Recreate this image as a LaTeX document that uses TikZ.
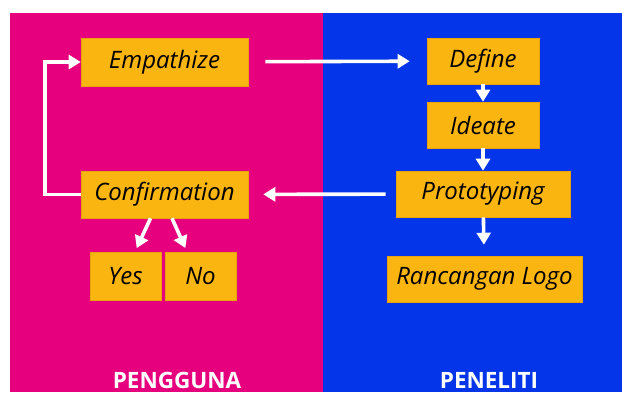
\documentclass[tikz,border=0pt]{standalone}
\usepackage{fontspec}
\setmainfont{Open Sans}
\usepackage{tikz}
\usetikzlibrary{arrows.meta,positioning,calc}
\definecolor{pinkbg}{HTML}{E6007E}
\definecolor{bluebg}{HTML}{0535E8}
\definecolor{gold}{HTML}{FBB510}
\definecolor{goldedge}{HTML}{E9A20C}
\tikzset{
  arr/.style={-{Triangle[length=12pt,width=14pt]},line width=3.6pt,white},
  stage/.style={rectangle,fill=gold,draw=goldedge,line width=0.6pt,
    minimum height=46pt,text centered,font=\fontsize{24}{26}\selectfont\itshape,text=black},
  side/.style={font=\fontsize{22.5}{25}\selectfont\bfseries,text=white},
}
\begin{document}
\begin{tikzpicture}[x=1pt,y=-1pt]
\useasboundingbox (0,0) rectangle (622,392);
\fill[white] (0,0) rectangle (622,392);
\fill[pinkbg] (10,13) rectangle (323,392);
\fill[bluebg] (323,13) rectangle (622,392);

\node[stage,minimum width=167pt,minimum height=48pt] (emp) at (164.5,62) {Empathize};
\node[stage,minimum width=112pt] (def) at (483,61) {Define};
\node[stage,minimum width=112pt] (ide) at (483,125) {Ideate};
\node[stage,minimum width=174pt] (pro) at (483,194) {Prototyping};
\node[stage,minimum width=195pt] (logo) at (484.5,279) {Rancangan Logo};
\node[stage,minimum width=167pt,minimum height=47pt] (conf) at (164.5,194.5) {Confirmation};
\node[stage,minimum width=71pt,minimum height=48pt] (yes) at (125.5,276) {Yes};
\node[stage,minimum width=71pt,minimum height=48pt] (no) at (200.5,276) {No};

\node[side] (usr) at (177,380) {PENGGUNA};
\node[side] (res) at (489,380) {PENELITI};

\draw[arr,shorten <=17pt,shorten >=17pt] (emp) -- (def);
\draw[arr] (def) -- (ide);
\draw[arr] (ide) -- (pro);
\draw[arr,shorten >=11pt] (pro) -- (logo);
\draw[arr,shorten <=10pt,shorten >=15pt] (pro) -- (conf);
\draw[arr] (conf.west) -- ++(-36,0) |- (emp.west);
\draw[arr,shorten >=4pt] ([xshift=-14pt]conf.south) -- ([xshift=9.5pt]yes.north);
\draw[arr,shorten >=4pt] ([xshift=7.5pt]conf.south) -- ([xshift=-13.5pt]no.north);
\end{tikzpicture}
\end{document}
